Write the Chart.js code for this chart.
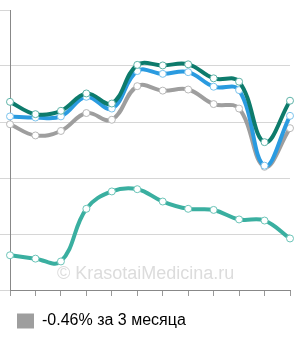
<!DOCTYPE html>
<html>
<head>
<meta charset="utf-8">
<script src="https://cdn.jsdelivr.net/npm/chart.js@4/dist/chart.umd.min.js"></script>
<style>
  html, body { margin: 0; padding: 0; background: #fff; }
  #wrap { width: 300px; height: 340px; }
</style>
</head>
<body>
<div id="wrap"><canvas id="lineChart"></canvas></div>
<script>
// 12 points, no visible x labels
const labels = ['', '', '', '', '', '', '', '', '', '', '', ''];
const darkGreenValues = [3.36, 3.14, 3.20, 3.51, 3.33, 4.02, 4.01, 4.03, 3.78, 3.72, 2.64, 3.38];
const blueValues = [3.10, 3.08, 3.10, 3.45, 3.24, 3.91, 3.86, 3.89, 3.63, 3.57, 2.22, 3.11];
const grayValues = [2.96, 2.76, 2.84, 3.16, 3.04, 3.64, 3.56, 3.58, 3.32, 3.24, 2.20, 2.89];
const tealValues = [0.62, 0.56, 0.51, 1.45, 1.76, 1.80, 1.58, 1.45, 1.43, 1.26, 1.24, 0.92];
const legendText = '-0.46% за 3 месяца';
const watermark = '© KrasotaiMedicina.ru';

function lineSet(data, color, pointColor, order) {
    return {
        data: data,
        borderColor: color,
        backgroundColor: color,
        borderWidth: 4,
        tension: 0.4,
        pointRadius: 3.5,
        pointBorderWidth: 1,
        pointBackgroundColor: '#fff',
        pointBorderColor: pointColor,
        clip: false,
        order: order
    };
}

const watermarkPlugin = {
    id: 'watermark',
    beforeDatasetsDraw(chart) {
        const ctx = chart.ctx;
        ctx.save();
        ctx.font = '18px "Liberation Sans", Arial, sans-serif';
        ctx.fillStyle = '#dcdcdc';
        ctx.textBaseline = 'alphabetic';
        ctx.fillText(watermark, 57, 279);
        ctx.restore();
    }
};

document.addEventListener('DOMContentLoaded', function() {
    const ctx = document.getElementById('lineChart');
    new Chart(ctx, {
        type: 'line',
        data: {
            labels: labels,
            datasets: [
                lineSet(darkGreenValues, '#0d7b6c', '#5fb3a8', 1),
                lineSet(blueValues, '#2a9be0', '#7cc3ec', 2),
                lineSet(grayValues, '#9e9e9e', '#b8b8b8', 3),
                lineSet(tealValues, '#3aafa0', '#6cc4b8', 4)
            ]
        },
        options: {
            responsive: true,
            maintainAspectRatio: false,
            animation: false,
            layout: { padding: { top: 10, right: 10, bottom: 1, left: 0 } },
            plugins: {
                tooltip: { enabled: false },
                legend: {
                    position: 'bottom',
                    align: 'start',
                    labels: {
                        boxWidth: 17,
                        boxHeight: 15,
                        padding: 17,
                        color: '#333',
                        font: { family: '"Liberation Sans", Arial, sans-serif', size: 16 },
                        generateLabels: () => [{
                            text: legendText,
                            fillStyle: '#9e9e9e',
                            strokeStyle: '#9e9e9e',
                            lineWidth: 0,
                            datasetIndex: 2
                        }]
                    }
                }
            },
            scales: {
                x: {
                    offset: false,
                    grid: { drawOnChartArea: false, drawTicks: true, tickLength: 6, tickColor: '#999' },
                    border: { color: '#888' },
                    ticks: { display: false }
                },
                y: {
                    min: 0,
                    max: 5,
                    ticks: { display: false, stepSize: 1 },
                    grid: {
                        tickLength: 10,
                        tickColor: '#d6d6d6',
                        color: (c) => (c.tick && c.tick.value === 5) ? 'rgba(0,0,0,0)' : '#d6d6d6'
                    },
                    border: { color: '#888' }
                }
            }
        },
        plugins: [watermarkPlugin]
    });
});
</script>
</body>
</html>
